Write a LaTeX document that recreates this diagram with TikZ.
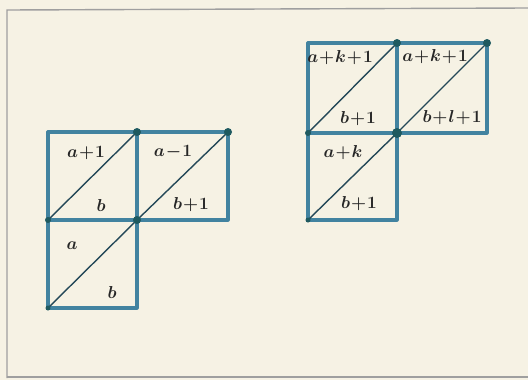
\documentclass[tikz,border=0pt]{standalone}
\usepackage{amsmath, amssymb}
\usepackage{bm}
\usepackage{tikz}

\definecolor{sqblue}{HTML}{4283A0}
\definecolor{knot}{HTML}{1F5A60}
\definecolor{paper}{HTML}{F6F2E4}
\tikzset{
  cell/.style={draw=sqblue, line width=3.2pt, line join=round},
  diag/.style={draw=sqblue!55!black, line width=1.4pt},
  lab/.style={inner sep=0pt, font=\LARGE, text=black!85},
}

\begin{document}
\begin{tikzpicture}[x=1pt,y=-1pt]
    \fill[paper] (0,0) rectangle (528,380);
    \useasboundingbox (0,0) rectangle (528,380);
    \draw[gray!75, line width=1.4pt] (7,378) -- (7,10) -- (528,8);
    \draw[gray!75, line width=1.4pt] (7,377) -- (528,377);

    % left corner
    \coordinate (l00) at (48,308);
    \coordinate (l10) at (137,308);
    \coordinate (l01) at (48,220);
    \coordinate (l11) at (137,220);
    \coordinate (l02) at (48,132);
    \coordinate (l12) at (137,132);
    \coordinate (l21) at (228,220);
    \coordinate (l22) at (228,132);

    \draw[cell] (l00) rectangle (l11);
    \draw[cell] (l01) rectangle (l12);
    \draw[cell] (l11) rectangle (l22);
    \draw[diag] (l00) -- (l11);
    \draw[diag] (l01) -- (l12);
    \draw[diag] (l11) -- (l22);

    \fill[knot] (l12) circle (4pt);
    \fill[knot] (l22) circle (4pt);
    \fill[knot] (l01) circle (3pt);
    \fill[knot] (l11) circle (4pt);
    \fill[knot] (l00) circle (2.5pt);

    \node[lab] (la1) at (86,153) {$\bm{a\!+\!1}$};
    \node[lab] (lb1) at (101,205) {$\bm{b}$};
    \node[lab] (la2) at (72,246) {$\bm{a}$};
    \node[lab] (lb2) at (112,292) {$\bm{b}$};
    \node[lab] (la3) at (173,152) {$\bm{a\!-\!1}$};
    \node[lab] (lb3) at (191,205) {$\bm{b\!+\!1}$};

    % right corner
    \coordinate (r00) at (308,220);
    \coordinate (r10) at (397,220);
    \coordinate (r01) at (308,133);
    \coordinate (r11) at (397,133);
    \coordinate (r02) at (308,43);
    \coordinate (r12) at (397,43);
    \coordinate (r21) at (487,133);
    \coordinate (r22) at (487,43);

    \draw[cell] (r00) rectangle (r11);
    \draw[cell] (r01) rectangle (r12);
    \draw[cell] (r11) rectangle (r22);
    \draw[diag] (r00) -- (r11);
    \draw[diag] (r01) -- (r12);
    \draw[diag] (r11) -- (r22);

    \fill[knot] (r12) circle (4pt);
    \fill[knot] (r22) circle (4pt);
    \fill[knot] (r01) circle (3pt);
    \fill[knot] (r11) circle (5pt);
    \fill[knot] (r00) circle (2.5pt);

    \node[lab] (ra1) at (340,58) {$\bm{a\!+\!k\!+\!1}$};
    \node[lab] (rb1) at (358,119) {$\bm{b\!+\!1}$};
    \node[lab] (ra2) at (343,153) {$\bm{a\!+\!k}$};
    \node[lab] (rb2) at (359,204) {$\bm{b\!+\!1}$};
    \node[lab] (ra3) at (435,57) {$\bm{a\!+\!k\!+\!1}$};
    \node[lab] (rb3) at (452,118) {$\bm{b\!+\!l\!+\!1}$};
\end{tikzpicture}
\end{document}
